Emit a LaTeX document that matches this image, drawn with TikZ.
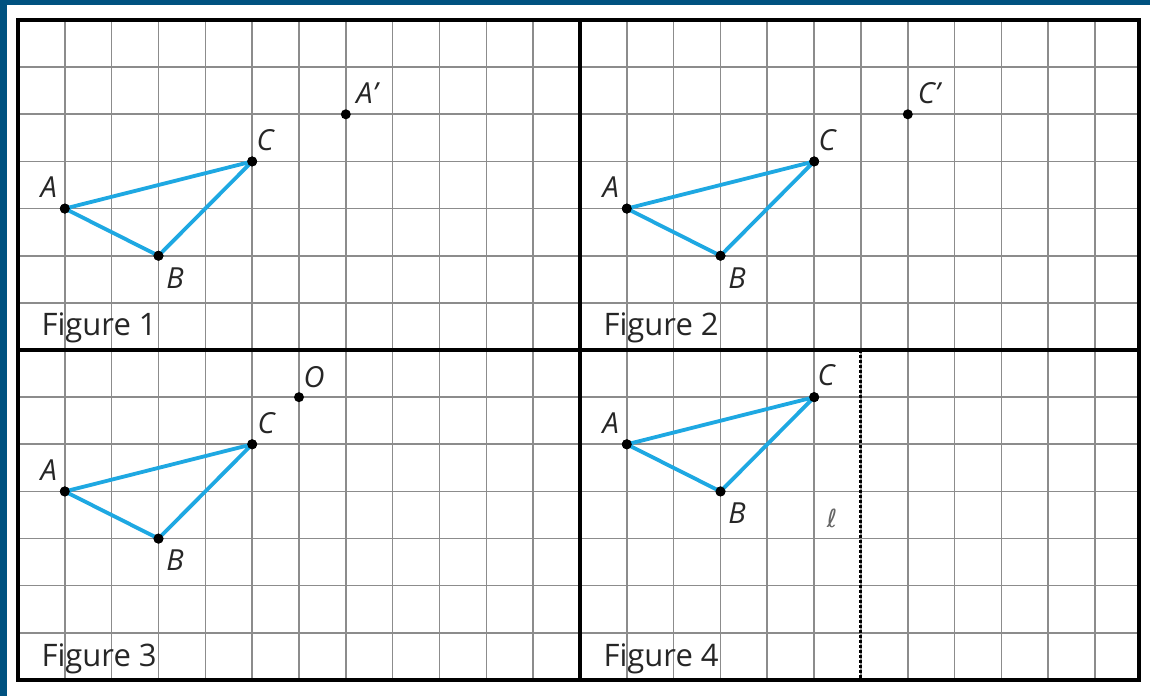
\documentclass[tikz,border=0pt]{standalone}
\usepackage{fontspec}
\setmainfont{Open Sans}
\newfontfamily\ellfont{DejaVu Sans}
\definecolor{borderblue}{RGB}{0,82,128}
\definecolor{gridgray}{RGB}{140,140,140}
\definecolor{triblue}{RGB}{30,168,226}
\begin{document}
\begin{tikzpicture}[x=1pt,y=-1pt,
  gridline/.style={draw=gridgray, line width=1.6pt},
  frameline/.style={draw=black, line width=3.2pt},
  tri/.style={draw=triblue, line width=3.8pt, line join=round, line cap=round},
  dot/.style={circle, fill=black, inner sep=0pt, minimum size=10pt},
  lbl/.style={font=\fontsize{29}{32}\selectfont\itshape, inner sep=0pt, text=black!85},
  figlbl/.style={font=\fontsize{31}{36}\selectfont, anchor=base west, inner sep=0pt, text=black!85},
  panel/.style={x=46.83pt, y=47.14pt}]
\useasboundingbox (0,0) rectangle (1150,696);
\fill[white] (0,0) rectangle (1150,696);
\fill[borderblue] (0,0) rectangle (1150,5);
\fill[borderblue] (0,0) rectangle (7,696);
% grid
\foreach \k in {1,...,23} {\draw[gridline] (18+\k*46.83,20) -- (18+\k*46.83,680);}
\foreach \j in {1,...,13} {\draw[gridline] (18,20+\j*47.14) -- (1139,20+\j*47.14);}
% frame
\draw[frameline] (18,20) rectangle (1139,680);
\draw[frameline] (580,20) -- (580,680);
\draw[frameline] (18,350) -- (1139,350);
% Figure 1
\begin{scope}[shift={(18,350)}, panel]
  \node[dot] (A1) at (1,3) {};
  \node[dot] (B1) at (3,2) {};
  \node[dot] (C1) at (5,4) {};
  \node[dot] (P1) at (7,5) {};
  \draw[tri] (A1.center) -- (B1.center) -- (C1.center) -- cycle;
  \node[dot] at (A1) {}; \node[dot] at (B1) {}; \node[dot] at (C1) {};
  \node[lbl, xshift=-16pt, yshift=21pt] (lA1) at (A1) {A};
  \node[lbl, xshift=16.5pt, yshift=-22pt] (lB1) at (B1) {B};
  \node[lbl, xshift=13pt, yshift=21pt] (lC1) at (C1) {C};
  \node[lbl, xshift=21pt, yshift=21pt] (lP1) at (P1) {A’};
  \node[figlbl] (f1) at (0.5,0.3) {Figure 1};
\end{scope}
% Figure 2
\begin{scope}[shift={(580,350)}, panel]
  \node[dot] (A2) at (1,3) {};
  \node[dot] (B2) at (3,2) {};
  \node[dot] (C2) at (5,4) {};
  \node[dot] (P2) at (7,5) {};
  \draw[tri] (A2.center) -- (B2.center) -- (C2.center) -- cycle;
  \node[dot] at (A2) {}; \node[dot] at (B2) {}; \node[dot] at (C2) {};
  \node[lbl, xshift=-16pt, yshift=21pt] (lA2) at (A2) {A};
  \node[lbl, xshift=16.5pt, yshift=-22pt] (lB2) at (B2) {B};
  \node[lbl, xshift=13pt, yshift=21pt] (lC2) at (C2) {C};
  \node[lbl, xshift=21pt, yshift=21pt] (lP2) at (P2) {C’};
  \node[figlbl] (f2) at (0.5,0.3) {Figure 2};
\end{scope}
% Figure 3
\begin{scope}[shift={(18,680)}, panel]
  \node[dot] (A3) at (1,4) {};
  \node[dot] (B3) at (3,3) {};
  \node[dot] (C3) at (5,5) {};
  \node[dot] (O3) at (6,6) {};
  \draw[tri] (A3.center) -- (B3.center) -- (C3.center) -- cycle;
  \node[dot] at (A3) {}; \node[dot] at (B3) {}; \node[dot] at (C3) {};
  \node[lbl, xshift=-16pt, yshift=21pt] (lA3) at (A3) {A};
  \node[lbl, xshift=16.5pt, yshift=-22pt] (lB3) at (B3) {B};
  \node[lbl, xshift=14pt, yshift=21pt] (lC3) at (C3) {C};
  \node[lbl, xshift=15pt, yshift=20pt] (lO3) at (O3) {O};
  \node[figlbl] (f3) at (0.5,0.28) {Figure 3};
\end{scope}
% Figure 4
\begin{scope}[shift={(580,680)}, panel]
  \node[dot] (A4) at (1,5) {};
  \node[dot] (B4) at (3,4) {};
  \node[dot] (C4) at (5,6) {};
  \coordinate (Ltop) at (6,7);
  \coordinate (Lbot) at (6,0);
  \draw[tri] (A4.center) -- (B4.center) -- (C4.center) -- cycle;
  \node[dot] at (A4) {}; \node[dot] at (B4) {}; \node[dot] at (C4) {};
  \draw[black, line width=3pt, dash pattern=on 3pt off 2pt] (Ltop) -- (Lbot);
  \node[lbl, xshift=-16pt, yshift=21pt] (lA4) at (A4) {A};
  \node[lbl, xshift=16.5pt, yshift=-22pt] (lB4) at (B4) {B};
  \node[lbl, xshift=12pt, yshift=22pt] (lC4) at (C4) {C};
  \node[inner sep=0pt, text=black!60, font=\ellfont\fontsize{25}{30}\selectfont] (ell) at (5.38,3.42) {ℓ};
  \node[figlbl] (f4) at (0.5,0.28) {Figure 4};
\end{scope}
\end{tikzpicture}
\end{document}
